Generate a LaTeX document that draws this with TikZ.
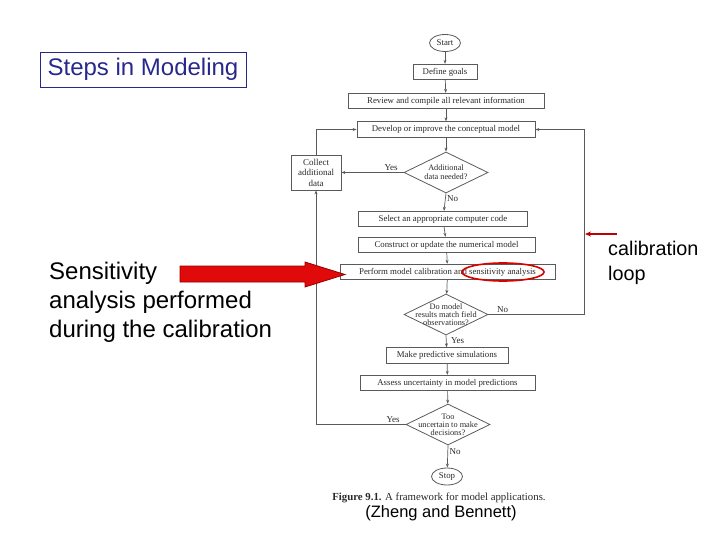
\documentclass[tikz,border=0pt]{standalone}
\usepackage{fontspec}
\setmainfont{Liberation Serif}
\newfontfamily\arialf{Liberation Sans}
\usetikzlibrary{shapes.geometric,arrows.meta,calc}
\definecolor{navy}{RGB}{40,40,140}
\definecolor{lin}{RGB}{90,90,90}
\definecolor{txt}{RGB}{40,40,40}
\definecolor{bigred}{RGB}{225,10,10}
\definecolor{darkred}{RGB}{150,0,0}
\tikzset{
  fbox/.style={draw=lin, line width=0.8pt, text=txt, font=\fontsize{8.8}{10}\selectfont, minimum height=15.5pt, inner sep=1pt},
  dia/.style={diamond, draw=lin, line width=0.8pt, inner sep=0pt, aspect=2.1, minimum width=84pt, minimum height=41pt},
  diatext/.style={text=txt, font=\fontsize{8.3}{8}\selectfont, align=center, inner sep=0pt},
  term/.style={ellipse, draw=lin, line width=0.8pt, text=txt, font=\fontsize{8.8}{10}\selectfont, minimum width=31pt, minimum height=17pt, inner sep=0pt},
  conn/.style={draw=lin, line width=0.7pt, -{Stealth[length=4pt,width=3pt]}},
  plain/.style={draw=lin, line width=0.7pt},
  lab/.style={text=txt, font=\fontsize{9}{10}\selectfont, inner sep=1.5pt},
  sans/.style={font=\arialf\fontsize{24}{29}\selectfont, text=black}
}
\begin{document}
\begin{tikzpicture}[x=1pt,y=-1pt]
\useasboundingbox (0,0) rectangle (720,540);
% title
\node[draw=navy, line width=0.8pt, text=navy, font=\arialf\fontsize{24}{28}\selectfont, minimum width=206pt, minimum height=35pt, inner sep=0pt] (title) at (143,69.5) {\raisebox{-4pt}{Steps in Modeling}};
% flowchart
\node[term] (start) at (445,43) {Start};
\node[fbox, minimum width=64pt] (goals) at (445,72) {Define goals};
\node[fbox, minimum width=196pt] (review) at (446,101) {Review and compile all relevant information};
\node[fbox, minimum width=178pt] (develop) at (446,129.5) {Develop or improve the conceptual model};
\node[fbox, minimum width=50pt, minimum height=35pt, align=center, font=\fontsize{9}{10.5}\selectfont] (collect) at (316,172.5) {Collect\\additional\\data};
\node[dia, label={[diatext]center:Additional\\[1pt]data needed?}] (d1) at (446,172.5) {};
\node[fbox, minimum width=169pt] (select) at (443,219) {Select an appropriate computer code};
\node[fbox, minimum width=177pt] (construct) at (446.5,245) {Construct or update the numerical model};
\node[fbox, minimum width=215pt] (perform) at (447.5,272) {Perform model calibration and sensitivity analysis};
\node[draw=red!85!black, line width=1.6pt, ellipse, minimum width=82pt, minimum height=18pt, inner sep=0pt] (redell) at (503,272) {};
\node[dia, label={[diatext]center:Do model\\results match field\\observations?}] (d2) at (446,314.5) {};
\node[fbox, minimum width=122pt] (make) at (447,355.5) {Make predictive simulations};
\node[fbox, minimum width=175pt] (assess) at (447.5,383) {Assess uncertainty in model predictions};
\node[dia, label={[diatext]center:Too\\uncertain to make\\decisions?}] (d3) at (448,424.5) {};
\node[term] (stop) at (447,476.5) {Stop};
\node[text=txt, font=\fontsize{10.8}{12}\selectfont] (cap) at (439,497.5) {\textbf{Figure 9.1.} A framework for model applications.};
\node[font=\arialf\fontsize{16.5}{18}\selectfont, text=black] (ref) at (441,513) {(Zheng and Bennett)};
% connectors
\draw[conn] (start) -- (goals);
\draw[conn] (goals) -- (review);
\draw[conn] (review) -- (develop);
\draw[conn] (develop) -- (d1);
\draw[conn] (d1.west) -- node[lab, above, pos=0.2] {Yes} (collect.east);
\draw[conn] (d1.south) -- node[lab, right, pos=0.3] {No} (select);
\draw[conn] (select) -- (construct);
\draw[conn] (construct) -- (perform);
\draw[conn] (perform) -- (d2);
\coordinate (loopc) at (584,314.5);
\draw[plain] (d2.east) -- node[lab, above, pos=0.15] {No} (loopc);
\draw[conn] (loopc) |- (develop.east);
\draw[conn] (d2.south) -- node[lab, right, pos=0.45, xshift=3pt] {Yes} (make);
\draw[conn] (make) -- (assess);
\draw[conn] (assess) -- (d3);
\coordinate (leftc) at (316,424.5);
\draw[plain] (d3.west) -- node[lab, above, pos=0.14] {Yes} (leftc);
\draw[conn] (leftc) -- (collect.south);
\draw[conn] (collect.north) |- (develop.west);
\draw[conn] (d3.south) -- node[lab, right, pos=0.3] {No} (stop);
% calibration loop pointer
\coordinate (calstart) at (617,234);
\coordinate (calend) at (585,234);
\draw[draw=red!75!black, line width=1.3pt, -{Stealth[length=6pt,width=5pt]}] (calstart) -- (calend);
\node[anchor=north west, align=left, inner sep=0pt, text=black, font=\arialf\fontsize{19.8}{25}\selectfont] (callab) at (608,241) {calibration\\loop};
% big red arrow
\fill[bigred, draw=darkred, line width=0.8pt] (180,266) -- (305,266) -- (305,262) -- (345,274.5) -- (305,287) -- (305,282) -- (180,282) -- cycle;
\node[sans, anchor=north west, align=left, inner sep=0pt] (sens) at (49,262) {Sensitivity\\analysis performed\\during the calibration};
\end{tikzpicture}
\end{document}
